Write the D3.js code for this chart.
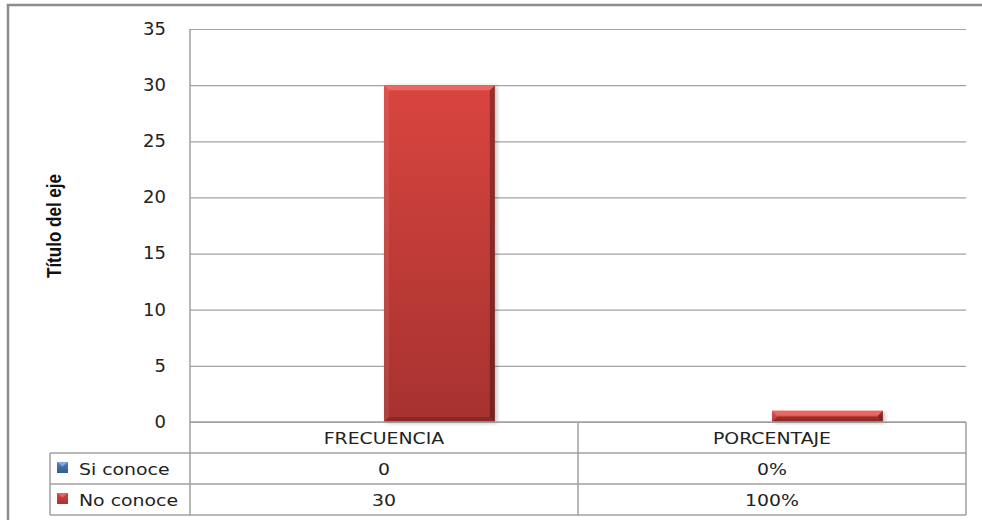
<!DOCTYPE html>
<html>
<head>
<meta charset="utf-8">
<script src="https://cdn.jsdelivr.net/npm/d3@7"></script>
<style>
  html, body { margin: 0; padding: 0; background: #fff; }
  svg { display: block; }
</style>
</head>
<body>
<script>
// Chart data
const categories = ["FRECUENCIA", "PORCENTAJE"];
const seriesNames = ["Si conoce", "No conoce"];
const siConoce = [0, 0];
const noConoce = [30, 1];
const yTicks = [0, 5, 10, 15, 20, 25, 30, 35];
const yTitle = "Título del eje";

// How each column's values are written in the data table
const cellFormats = [d3.format("d"), d3.format(".0%")];

const seriesValues = [siConoce, noConoce];
const palette = {
  "Si conoce": { light: "#8db4e6", mid: "#4f81bd", dark: "#2f5b8f" },
  "No conoce": { light: "#ec6f6a", mid: "#d9453f", dark: "#a8302d" }
};

const W = 982, H = 520;
const plot = { left: 190, right: 966, top: 29, bottom: 422 };
const rowH = 31;
const legendLeft = 50;

const svg = d3.select("body").append("svg")
  .attr("width", W).attr("height", H);

const defs = svg.append("defs");
seriesNames.forEach((s, i) => {
  const g = defs.append("linearGradient").attr("id", "fill" + i)
    .attr("x1", 0).attr("y1", 0).attr("x2", 0).attr("y2", 1);
  g.append("stop").attr("offset", "0%").attr("stop-color", palette[s].mid);
  g.append("stop").attr("offset", "100%").attr("stop-color", i === 1 ? "#a63230" : palette[s].dark);
});
defs.append("filter").attr("id", "shadow")
  .attr("x", "-20%").attr("y", "-5%").attr("width", "140%").attr("height", "115%")
  .append("feGaussianBlur").attr("stdDeviation", 2);

// Outer chart frame
svg.append("rect")
  .attr("x", 8).attr("y", 5).attr("width", 1000).attr("height", 600)
  .attr("fill", "none").attr("stroke", "#8c8c8c").attr("stroke-width", 2.5);

const x = d3.scaleBand().domain(categories).range([plot.left, plot.right])
  .paddingInner(0).paddingOuter(0);
const xs = d3.scaleBand().domain(seriesNames).range([0, x.bandwidth()])
  .paddingInner(0).paddingOuter(0.75);
const y = d3.scaleLinear().domain([0, 35]).range([plot.bottom, plot.top]);

// Gridlines
svg.append("g")
  .attr("transform", `translate(${plot.left},0)`)
  .call(d3.axisLeft(y).tickValues(yTicks).tickSize(-(plot.right - plot.left)).tickFormat(""))
  .call(g => g.select(".domain").remove())
  .call(g => g.selectAll(".tick line").attr("stroke", "#a3a3a3").attr("stroke-width", 1.2));

// Tick labels
const yAxis = svg.append("g")
  .attr("transform", `translate(${plot.left},0)`)
  .call(d3.axisLeft(y).tickValues(yTicks).tickSize(0).tickPadding(24))
  .call(g => g.select(".domain").remove());
yAxis.selectAll("text")
  .attr("font-family", "'DejaVu Sans', Verdana, sans-serif")
  .attr("font-size", 18).attr("fill", "#222").attr("dy", "0.3em");

// Axis title
svg.append("text")
  .attr("transform", "translate(61,226) rotate(-90)")
  .attr("text-anchor", "middle")
  .attr("font-family", "'Liberation Sans', Arial, sans-serif")
  .attr("font-weight", "bold").attr("font-size", 20)
  .attr("textLength", 104).attr("lengthAdjust", "spacingAndGlyphs")
  .attr("fill", "#111")
  .text(yTitle);

// Bevelled bars
function bevelBar(g, x0, y0, w, h, idx, name) {
  const b = Math.min(5, h / 2.2);
  const c = palette[name];
  g.append("rect").attr("x", x0 + 2).attr("y", y0 + 1).attr("width", w).attr("height", h)
    .attr("fill", "#000").attr("opacity", 0.25).attr("filter", "url(#shadow)");
  g.append("rect").attr("x", x0).attr("y", y0).attr("width", w).attr("height", h)
    .attr("fill", `url(#fill${idx})`);
  const x1 = x0 + w, y1 = y0 + h;
  // top facet
  g.append("polygon").attr("points", [[x0, y0], [x1, y0], [x1 - b, y0 + b], [x0 + b, y0 + b]].join(" "))
    .attr("fill", c.light).attr("opacity", 0.85);
  // left facet
  g.append("polygon").attr("points", [[x0, y0], [x0 + b, y0 + b], [x0 + b, y1 - b], [x0, y1]].join(" "))
    .attr("fill", "#fff").attr("opacity", 0.08);
  // right facet
  g.append("polygon").attr("points", [[x1, y0], [x1, y1], [x1 - b, y1 - b], [x1 - b, y0 + b]].join(" "))
    .attr("fill", "#000").attr("opacity", 0.3);
  // bottom facet
  g.append("polygon").attr("points", [[x0, y1], [x0 + b, y1 - b], [x1 - b, y1 - b], [x1, y1]].join(" "))
    .attr("fill", "#000").attr("opacity", 0.18);
}

const barsG = svg.append("g");
seriesNames.forEach((s, si) => {
  categories.forEach((cat, ci) => {
    const v = seriesValues[si][ci];
    if (v <= 0) return;
    const x0 = x(cat) + xs(s);
    bevelBar(barsG, x0, y(v), xs.bandwidth(), y(0) - y(v), si, s);
  });
});

// Data table
const tbl = svg.append("g");
const lineColor = "#a0a0a0";
const tableBottom = plot.bottom + rowH * (seriesNames.length + 1);
const hline = (x1, x2, yy) => tbl.append("line").attr("x1", x1).attr("x2", x2).attr("y1", yy).attr("y2", yy)
  .attr("stroke", lineColor).attr("stroke-width", 1.5);
const vline = (xx, y1, y2) => tbl.append("line").attr("x1", xx).attr("x2", xx).attr("y1", y1).attr("y2", y2)
  .attr("stroke", lineColor).attr("stroke-width", 1.5);

// value axis line and category axis line
vline(plot.left, plot.top, tableBottom);
hline(plot.left, plot.right, plot.bottom);
seriesNames.forEach((s, i) => hline(legendLeft, plot.right, plot.bottom + rowH * (i + 1)));
hline(legendLeft, plot.right, tableBottom);
vline(legendLeft, plot.bottom + rowH, tableBottom);
categories.forEach(cat => vline(x(cat) + x.bandwidth(), plot.bottom, tableBottom));

const cellText = (cx, cy, txt, anchor) => tbl.append("text")
  .attr("transform", `translate(${cx},${cy}) scale(1.18,1)`)
  .attr("text-anchor", anchor || "middle")
  .attr("font-family", "'DejaVu Sans', Verdana, sans-serif")
  .attr("font-size", 16).attr("fill", "#222")
  .text(txt);

categories.forEach(cat => cellText(x(cat) + x.bandwidth() / 2, plot.bottom + 22, cat));
seriesNames.forEach((s, si) => {
  const rowTop = plot.bottom + rowH * (si + 1);
  categories.forEach((cat, ci) => {
    cellText(x(cat) + x.bandwidth() / 2, rowTop + 22, cellFormats[ci](seriesValues[si][ci]));
  });
  // legend key
  const k = tbl.append("g");
  const kx = legendLeft + 7, ky = rowTop + 9;
  k.append("rect").attr("x", kx).attr("y", ky).attr("width", 11).attr("height", 11)
    .attr("fill", `url(#fill${si})`);
  k.append("polygon").attr("points", [[kx, ky], [kx + 11, ky], [kx + 5.5, ky + 4.5]].join(" "))
    .attr("fill", palette[s].light).attr("opacity", 0.8);
  cellText(legendLeft + 29, rowTop + 22, s, "start");
});
</script>
</body>
</html>
